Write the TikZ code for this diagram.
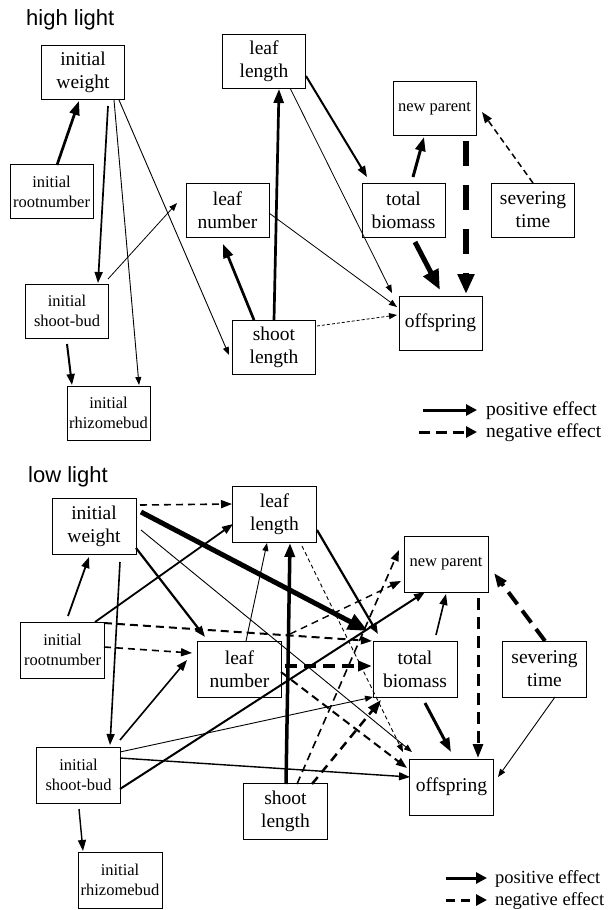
\documentclass[tikz,border=0pt]{standalone}
\usepackage{fontspec}
\setmainfont{Liberation Serif}
\newfontfamily\titlefont{Liberation Sans}
\usetikzlibrary{arrows.meta}
\tikzset{
  box/.style={draw, line width=0.9pt, minimum width=83pt, minimum height=54pt, inner sep=0pt, align=center, font=\fontsize{19.5}{23}\selectfont},
  sbox/.style={box, font=\fontsize{16.5}{20}\selectfont},
  bbox/.style={box, minimum width=84pt, minimum height=56pt},
  sbbox/.style={sbox, minimum width=84pt, minimum height=56pt},
  e1/.style={line width=0.9pt, -{Triangle[length=8pt,width=6pt]}},
  e2/.style={line width=1.7pt, -{Triangle[length=11pt,width=8pt]}},
  e3/.style={line width=2.7pt, -{Triangle[length=14pt,width=10pt]}},
  e5/.style={line width=5pt, -{Triangle[length=20pt,width=16pt]}},
  ttl/.style={anchor=base west, inner sep=0pt, font=\titlefont\fontsize{22}{26}\selectfont},
  lgd/.style={anchor=base west, inner sep=0pt, font=\fontsize{19.5}{23}\selectfont},
  lgdb/.style={anchor=base west, inner sep=0pt, font=\fontsize{18.5}{22}\selectfont},
}
\begin{document}
\begin{tikzpicture}[x=1pt,y=-1pt]
\useasboundingbox (0,0) rectangle (608,910);
\clip (0,0) rectangle (608,910);
% ---------------- high light ----------------
\node[ttl] (t1) at (26,25) {high light};
\node[box]  (iw1) at (83,72.5)   {initial\\weight};
\node[box]  (ll1) at (264,61)    {leaf\\length};
\node[sbox] (np1) at (434.5,108.5) {new parent};
\node[box]  (tb1) at (403.5,210) {total\\biomass};
\node[box]  (st1) at (533,210)   {severing\\time};
\node[sbox] (rn1) at (51.5,191.5) {initial\\rootnumber};
\node[box]  (ln1) at (227.5,210) {leaf\\number};
\node[sbox] (sb1) at (67,311)    {initial\\shoot-bud};
\node[box]  (sl1) at (274,347)   {shoot\\length};
\node[box]  (of1) at (440.5,323) {offspring};
\node[sbox] (rb1) at (108.5,413) {initial\\rhizomebud};

\draw[e3] ([shift={(5.5,-26.5)}]rn1.center) -- ([shift={(-4,28.5)}]iw1.center);
\draw[e2] ([shift={(25,33.5)}]iw1.center) -- ([shift={(31,-28)}]sb1.center);
\draw[e1] ([shift={(31,27.5)}]iw1.center) -- ([shift={(30.5,-28)}]rb1.center);
\draw[e1] ([shift={(36,27.5)}]iw1.center) -- ([shift={(-45,8)}]sl1.center);
\draw[e1, line width=0.8pt] ([shift={(41,-32)}]sb1.center) -- ([shift={(-50.5,-7)}]ln1.center);
\draw[e2, line width=2pt] ([shift={(0,33)}]sb1.center) -- ([shift={(-36.5,-28)}]rb1.center);
\draw[e3] ([shift={(-20,-27)}]sl1.center) -- ([shift={(-4.5,34)}]ln1.center);
\draw[e3] ([shift={(0,-27)}]sl1.center) -- ([shift={(15,28)}]ll1.center);
\draw[e1, line width=0.8pt] ([shift={(26,27)}]ll1.center) -- ([shift={(-48.5,-30)}]of1.center);
\draw[e2, line width=2pt] ([shift={(42,15)}]ll1.center) -- ([shift={(-36.5,-33)}]tb1.center);
\draw[e1, line width=0.8pt] ([shift={(41.5,3)}]ln1.center) -- ([shift={(-43.5,-16)}]of1.center);
\draw[e1, line width=0.8pt, dash pattern=on 3pt off 2pt] ([shift={(43,-21)}]sl1.center) -- ([shift={(-43.5,-8)}]of1.center);
\draw[e3, line width=3pt] ([shift={(9.5,-33)}]tb1.center) -- ([shift={(-10.5,28.5)}]np1.center);
\draw[e5] ([shift={(11.5,32)}]tb1.center) -- ([shift={(-0.5,-33)}]of1.center);
\draw[e5, line width=6pt, dash pattern=on 25pt off 19pt] ([shift={(31.5,32.5)}]np1.center) -- ([shift={(25.5,-29)}]of1.center);
\draw[e2, line width=1.5pt, dash pattern=on 6pt off 4pt] ([shift={(0,-27)}]st1.center) -- ([shift={(47.5,3.5)}]np1.center);

\coordinate (lpa1) at (423,410); \coordinate (lpb1) at (477,410);
\coordinate (lna1) at (419,432); \coordinate (lnb1) at (477,432);
\draw[line width=3pt, -{Triangle[length=11pt,width=11pt]}] (lpa1) -- (lpb1);
\draw[line width=3pt, dash pattern=on 11pt off 6pt, -{Triangle[length=11pt,width=11pt]}] (lna1) -- (lnb1);
\node[lgd] (lpt1) at (486,415) {positive effect};
\node[lgd] (lnt1) at (486,437) {negative effect};

% ---------------- low light ----------------
\node[ttl] (t2) at (28,482) {low light};
\node[bbox]  (iw2) at (94,526)    {initial\\weight};
\node[bbox]  (ll2) at (274.5,514) {leaf\\length};
\node[sbbox] (np2) at (446,564)   {new parent};
\node[bbox]  (tb2) at (415,669)   {total\\biomass};
\node[bbox]  (st2) at (544.5,669) {severing\\time};
\node[sbbox] (rn2) at (62.5,650)  {initial\\rootnumber};
\node[bbox]  (ln2) at (239.5,669) {leaf\\number};
\node[sbbox] (sb2) at (78.5,775)  {initial\\shoot-bud};
\node[bbox]  (sl2) at (285.5,811.5) {shoot\\length};
\node[bbox]  (of2) at (451.5,787) {offspring};
\node[sbbox] (rb2) at (120,880)   {initial\\rhizomebud};

% from initial weight
\draw[e2, line width=1.6pt, dash pattern=on 7pt off 5pt] ([shift={(46,-21)}]iw2.center) -- ([shift={(-42.5,-10)}]ll2.center);
\draw[e5] ([shift={(47,-14)}]iw2.center) -- ([shift={(-47,-38)}]tb2.center);
\draw[e1] ([shift={(47,4)}]iw2.center) -- ([shift={(-39.5,-35)}]of2.center);
\draw[e2, line width=2.2pt] ([shift={(42,22)}]iw2.center) -- ([shift={(-34.5,-32)}]ln2.center);
\draw[e2, line width=1.6pt] ([shift={(26,36)}]iw2.center) -- ([shift={(31.5,-30)}]sb2.center);
% from initial rootnumber
\draw[e2, line width=1.8pt] ([shift={(5.5,-34)}]rn2.center) -- ([shift={(-5,31)}]iw2.center);
\draw[e2, line width=1.8pt] ([shift={(32.5,-28)}]rn2.center) -- ([shift={(-41.5,10)}]ll2.center);
\draw[e2, line width=2pt, dash pattern=on 8pt off 5pt] ([shift={(41.5,-27)}]rn2.center) -- ([shift={(-43,-28)}]tb2.center);
\coordinate (rnbend) at ([shift={(-125,-35)}]tb2.center);
\draw[e2, line width=1.4pt, dash pattern=on 7pt off 5pt] (rnbend) -- ([shift={(-45,17)}]np2.center);
\draw[e2, line width=1.6pt, dash pattern=on 7pt off 5pt] ([shift={(41.5,-3)}]rn2.center) -- ([shift={(-47.5,-16)}]ln2.center);
% from initial shoot-bud
\draw[e2, line width=1.6pt] ([shift={(41.5,-35)}]sb2.center) -- ([shift={(-52.5,-9)}]ln2.center);
\draw[e2, line width=1.4pt] ([shift={(0.5,34)}]sb2.center) -- ([shift={(-37,-29)}]rb2.center);
\draw[e2, line width=2pt] ([shift={(41.5,14)}]sb2.center) -- ([shift={(-21,28)}]np2.center);
\draw[e1] ([shift={(41.5,-23)}]sb2.center) -- ([shift={(-42,28)}]tb2.center);
\draw[e2, line width=1.4pt] ([shift={(41.5,-17)}]sb2.center) -- ([shift={(-41.5,-10)}]of2.center);
% from shoot length
\draw[e3, line width=3.5pt] ([shift={(0.5,-27.5)}]sl2.center) -- ([shift={(15.5,29)}]ll2.center);
\draw[e2, line width=1.6pt, dash pattern=on 8pt off 5pt] ([shift={(11.5,-27.5)}]sl2.center) -- ([shift={(-47,-14)}]np2.center);
\draw[e3, line width=2.5pt, dash pattern=on 9pt off 6pt] ([shift={(26.5,-27.5)}]sl2.center) -- ([shift={(-34,31)}]tb2.center);
% from leaf number
\draw[e1] ([shift={(6.5,-28)}]ln2.center) -- ([shift={(-7.5,29)}]ll2.center);
\draw[e3, line width=3.8pt, dash pattern=on 12pt off 7pt] ([shift={(45.5,-3)}]ln2.center) -- ([shift={(-43,-3)}]tb2.center);
\draw[e2, line width=2pt, dash pattern=on 8pt off 5pt] ([shift={(41.5,3)}]ln2.center) -- ([shift={(-44.5,-19)}]of2.center);
% from leaf length
\draw[e2, line width=2.2pt] ([shift={(42.5,16)}]ll2.center) -- ([shift={(-37,-35)}]tb2.center);
\draw[e1, dash pattern=on 4pt off 3pt] ([shift={(27.5,32)}]ll2.center) -- ([shift={(-48.5,-35)}]of2.center);
% from total biomass
\draw[e2, line width=1.6pt] ([shift={(21,-34)}]tb2.center) -- ([shift={(0,30)}]np2.center);
\draw[e3, line width=3pt] ([shift={(10,34)}]tb2.center) -- ([shift={(-0.5,-35)}]of2.center);
% from severing time
\draw[e3, line width=4pt, dash pattern=on 15pt off 8pt] ([shift={(0.5,-28)}]st2.center) -- ([shift={(48,9)}]np2.center);
\draw[e1] ([shift={(10.5,28)}]st2.center) -- ([shift={(46.5,-10)}]of2.center);
% from new parent
\draw[e3, line width=3pt, dash pattern=on 12pt off 7pt] ([shift={(32,34)}]np2.center) -- ([shift={(26.5,-29)}]of2.center);

\coordinate (lpa2) at (446,878); \coordinate (lpb2) at (487,878);
\coordinate (lna2) at (446,900); \coordinate (lnb2) at (487,900);
\draw[line width=3pt, -{Triangle[length=11pt,width=11pt]}] (lpa2) -- (lpb2);
\draw[line width=3pt, dash pattern=on 9pt off 6pt, -{Triangle[length=11pt,width=11pt]}] (lna2) -- (lnb2);
\node[lgdb] (lpt2) at (495,883) {positive effect};
\node[lgdb] (lnt2) at (495,905) {negative effect};
\end{tikzpicture}
\end{document}
